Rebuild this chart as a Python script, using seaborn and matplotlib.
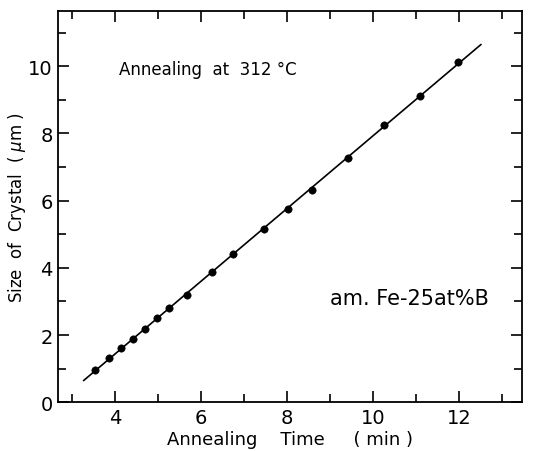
import numpy as np
import pandas as pd
import matplotlib.pyplot as plt
import seaborn as sns

# measured points: annealing time (min) vs crystal size (um)
time_min = [3.53, 3.85, 4.12, 4.40, 4.68, 4.96, 5.26, 5.67, 6.26, 6.73,
            7.47, 8.01, 8.57, 9.42, 10.26, 11.08, 11.97]
size_um = [0.95, 1.32, 1.61, 1.88, 2.19, 2.50, 2.81, 3.18, 3.88, 4.40,
           5.17, 5.75, 6.31, 7.27, 8.24, 9.13, 10.13]
# range of the straight fit line
fit_range = [3.26, 12.51]

x_ticks = [4, 6, 8, 10, 12]
y_ticks = [0, 2, 4, 6, 8, 10]

sns.set_style("ticks")
plt.rcParams['font.family'] = ['DejaVu Sans']
plt.rcParams['xtick.direction'] = 'in'
plt.rcParams['ytick.direction'] = 'in'
for k in ['text.color', 'axes.labelcolor', 'xtick.color', 'ytick.color', 'axes.edgecolor']:
    plt.rcParams[k] = 'black'

df = pd.DataFrame({'t': time_min, 's': size_um})
slope, icpt = np.polyfit(df['t'], df['s'], 1)
fit = pd.DataFrame({'t': fit_range})
fit['s'] = slope * fit['t'] + icpt

fig, ax = plt.subplots(figsize=(5.34, 4.52), dpi=100)
fig.subplots_adjust(left=0.109, right=0.978, top=0.973, bottom=0.108)

sns.lineplot(data=fit, x='t', y='s', ax=ax, color='black', lw=1.2)
sns.scatterplot(data=df, x='t', y='s', ax=ax, color='black', s=28, edgecolor='black', zorder=3)

ax.set_xlim(2.67, 13.47)
ax.set_ylim(0, 11.64)
ax.set_xticks(x_ticks)
ax.set_yticks(y_ticks)
ax.set_xticks(np.arange(3, 14, 1), minor=True)
ax.set_yticks(np.arange(1, 12, 1), minor=True)
ax.tick_params(which='both', top=True, right=True, labelsize=14, width=1.2)
ax.tick_params(which='major', length=8, pad=4)
ax.tick_params(which='minor', length=6)
for sp in ax.spines.values():
    sp.set_visible(True)
    sp.set_linewidth(1.3)

ax.set_xlabel('Annealing    Time     ( min )', fontsize=13, labelpad=2)
ax.set_ylabel('Size  of  Crystal  ( $\\mu$m )', fontsize=12)
ax.yaxis.set_label_coords(-0.065, 0.5)

ax.text(0.13, 0.84, 'Annealing  at  312 °C', transform=ax.transAxes, fontsize=12)
ax.text(0.585, 0.25, 'am. Fe-25at%B', transform=ax.transAxes, fontsize=15)

fig.savefig('out.png', dpi=100)
